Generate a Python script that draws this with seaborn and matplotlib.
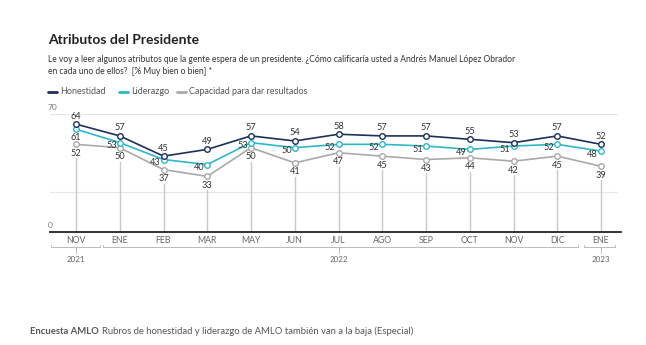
import numpy as np
import pandas as pd
import matplotlib
matplotlib.use("Agg")
import matplotlib.pyplot as plt
import seaborn as sns
from matplotlib.lines import Line2D

months = ["NOV", "ENE", "FEB", "MAR", "MAY", "JUN", "JUL", "AGO", "SEP", "OCT", "NOV", "DIC", "ENE"]
honestidad = [64, 57, 45, 49, 57, 54, 58, 57, 57, 55, 53, 57, 52]
liderazgo = [61, 53, 43, 40, 53, 50, 52, 52, 51, 49, 51, 52, 48]
capacidad = [52, 50, 37, 33, 50, 41, 47, 45, 43, 44, 42, 45, 39]
series_names = ["Honestidad", "Liderazgo", "Capacidad para dar resultados"]
years = ["2021", "2022", "2023"]
year_spans = [(0, 0), (1, 11), (12, 12)]

colors = {"Honestidad": "#1e2f5c", "Liderazgo": "#2bb8c9", "Capacidad para dar resultados": "#a9a9a9"}

sns.set_theme(style="white")
plt.rcParams["font.family"] = ["Lato", "DejaVu Sans"]

W, H = 646, 345
fig = plt.figure(figsize=(W / 100, H / 100), dpi=100)

def fx(px):
    return px / W

def fy(py):
    return 1 - py / H

# axes: x from 50 px to 621 px, y: value 0 at 232 px, value 70 at 114 px
ax = fig.add_axes([fx(50), fy(232), fx(621) - fx(50), fy(114) - fy(232)])
x0, dx = 76, 43.75
ax.set_xlim((50 - x0) / dx, (621 - x0) / dx)
ax.set_ylim(0, 70)

pos = np.arange(len(months))
df = pd.DataFrame({"pos": np.tile(pos, 3),
                   "valor": honestidad + liderazgo + capacidad,
                   "serie": np.repeat(series_names, len(months))})

# drop lines
ax.vlines(pos, 0, capacidad, color="#c8c8c8", lw=1.0, zorder=1)
# grid lines
ax.axhline(70, color="#e6e6e6", lw=0.8, zorder=0, xmax=(617 - 50) / (621 - 50))
ax.axhline(23.5, color="#e6e6e6", lw=0.8, zorder=0, xmax=(617 - 50) / (621 - 50))

for name in series_names[::-1]:
    sub = df[df.serie == name]
    sns.lineplot(data=sub, x="pos", y="valor", ax=ax, color=colors[name], lw=1.2,
                 marker="o", markersize=4, markerfacecolor="white",
                 markeredgecolor=colors[name], markeredgewidth=1.0, zorder=3)

lab_kw = dict(textcoords="offset pixels", fontsize=6.6, color="#333333", zorder=5)
for i in pos:
    ax.annotate(str(honestidad[i]), (i, honestidad[i]), xytext=(0, 8), ha="center", va="center", **lab_kw)
    if i == 0:
        ax.annotate(str(liderazgo[i]), (i, liderazgo[i]), xytext=(0, -8), ha="center", va="center", **lab_kw)
    else:
        ax.annotate(str(liderazgo[i]), (i, liderazgo[i]), xytext=(-3, -3), ha="right", va="center", **lab_kw)
    ax.annotate(str(capacidad[i]), (i, capacidad[i]), xytext=(0, -9), ha="center", va="center",
                bbox=dict(boxstyle="square,pad=0.05", fc="white", ec="none"), **lab_kw)

for s in ["left", "right", "top"]:
    ax.spines[s].set_visible(False)
ax.spines["bottom"].set_color("#222222")
ax.spines["bottom"].set_linewidth(1.3)
ax.set_xticks(pos)
ax.set_xticklabels(months)
ax.tick_params(axis="x", length=0, pad=3, labelsize=6.3, labelcolor="#666666")
ax.set_yticks([])
ax.set_xlabel("")
ax.set_ylabel("")
if ax.get_legend():
    ax.get_legend().remove()

# y labels
fig.text(fx(48), fy(108), "70", fontsize=6, color="#777777", ha="left", va="center")
fig.text(fx(48), fy(226), "0", fontsize=6, color="#777777", ha="left", va="center")

# year brackets
br_y = fy(247)
bracket_px = [(51, 100), (103, 578), (584, 615)]
for (a, b), yr, (xa, xb) in zip(year_spans, years, bracket_px):
    fig.add_artist(Line2D([fx(xa), fx(xa), fx(xb), fx(xb)], [fy(245), br_y, br_y, fy(245)],
                          color="#bbbbbb", lw=0.7))
    xc = x0 + (a + b) / 2 * dx
    fig.add_artist(Line2D([fx(xc), fx(xc)], [br_y, fy(253)], color="#bbbbbb", lw=0.7))
    fig.text(fx(xc), fy(260), yr, fontsize=5.8, color="#666666", ha="center", va="center")

# title, subtitle, legend
fig.text(fx(48), fy(40), "Atributos del Presidente", fontsize=10, fontweight="bold",
         color="#222222", ha="left", va="center")
fig.text(fx(48), fy(60), "Le voy a leer algunos atributos que la gente espera de un presidente. ¿Cómo calificaría usted a Andrés Manuel López Obrador",
         fontsize=6.15, color="#333333", ha="left", va="center")
fig.text(fx(48), fy(71), "en cada uno de ellos?  [% Muy bien o bien] *",
         fontsize=6.15, color="#333333", ha="left", va="center")

leg_x = [48, 119, 177]
for name, lx in zip(series_names, leg_x):
    fig.add_artist(Line2D([fx(lx), fx(lx + 9)], [fy(92), fy(92)], color=colors[name], lw=2))
    fig.text(fx(lx + 12), fy(92), name, fontsize=6.5, color="#555555", ha="left", va="center")

# caption
t1 = fig.text(fx(30), fy(331), "Encuesta AMLO", fontsize=6.8, fontweight="bold", color="#555555",
              ha="left", va="center")
fig.canvas.draw()
bb = t1.get_window_extent()
fig.text(bb.x1 / W + fx(3), fy(331), "Rubros de honestidad y liderazgo de AMLO también van a la baja (Especial)",
         fontsize=6.8, color="#555555", ha="left", va="center")

fig.savefig("out.png", dpi=100)
